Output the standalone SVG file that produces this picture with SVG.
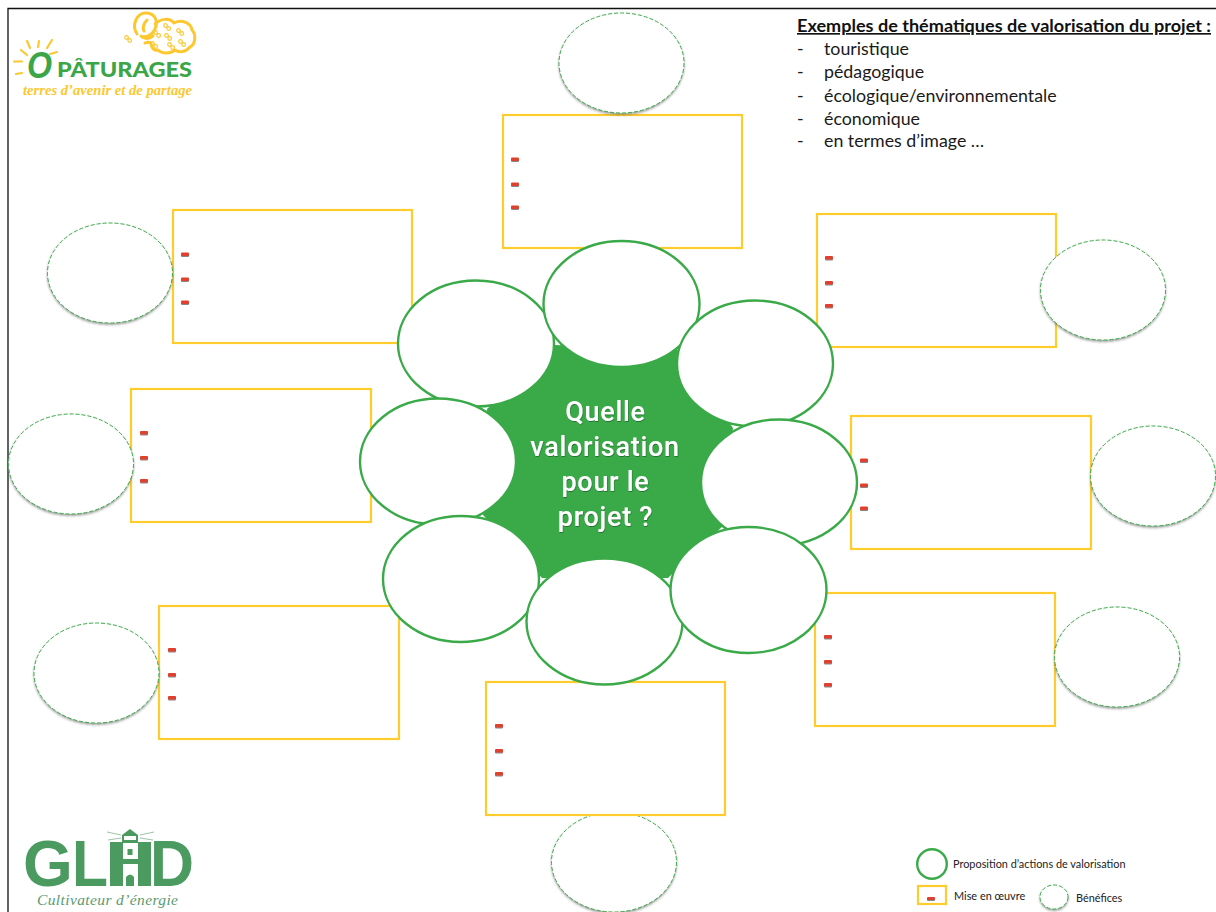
<svg xmlns="http://www.w3.org/2000/svg" width="1216" height="912" viewBox="0 0 1216 912">
<style>
.box{fill:#fff;stroke:#ffcc2e;stroke-width:2.2}
.act{fill:#fff;stroke:#3aaa48;stroke-width:2.4}
.ben{fill:#fff;stroke:#3aaa48;stroke-width:1;stroke-dasharray:4 2;filter:url(#sh)}
.d{fill:#e0402f;filter:url(#ds)}
.t{font-family:"Lato","Open Sans","Liberation Sans",sans-serif;font-size:17.8px;fill:#1a1a1a}
.h{font-family:"Lato","Open Sans","Liberation Sans",sans-serif;font-size:16.5px;fill:#111}
.lg{font-family:"Lato","Open Sans","Liberation Sans",sans-serif;font-size:10.9px;fill:#222}
.q{font-family:"Roboto","Inter","Liberation Sans",sans-serif;font-size:27px;font-weight:500;fill:#fff;text-anchor:middle;letter-spacing:.7px;filter:url(#ts)}
.y{fill:none;stroke:#fdc82f;stroke-width:3;stroke-linecap:round;stroke-linejoin:round}
.f{stroke-width:1.2}
.gl{font-family:"Liberation Sans",sans-serif;font-weight:700;font-size:64px;fill:#4b9a60}
.gf{fill:#4b9a60}
</style>
<defs>
<filter id="sh" x="-10%" y="-10%" width="120%" height="125%"><feDropShadow dx="0" dy="1.5" stdDeviation="1" flood-color="#555" flood-opacity=".6"/></filter>
<filter id="ds" x="-30%" y="-60%" width="160%" height="260%"><feDropShadow dx="0" dy="1" stdDeviation=".6" flood-color="#555" flood-opacity=".7"/></filter>
<filter id="ts" x="-10%" y="-10%" width="120%" height="130%"><feDropShadow dx="0.5" dy="1" stdDeviation=".7" flood-color="#1c5a28" flood-opacity=".7"/></filter>
<g id="marks"><rect x="0" y="0" width="8" height="3.500" rx="1" class="d"/><rect x="0" y="25" width="8" height="3.500" rx="1" class="d"/><rect x="0" y="48" width="8" height="3.500" rx="1" class="d"/></g>
<g id="fl"><circle cx="-1.500" cy="-1.500" r="1.800"/><circle cx="1.700" cy="1.500" r="1.800"/></g>
</defs>
<rect width="1216" height="912" fill="#fff"/>
<path d="M8 912V8.500H1216" fill="none" stroke="#111" stroke-width="1.300"/>

<g id="logo-paturages">
<g class="y">
<path d="M14 61.500H22M21 50l6 5M27 41l3 7M39 41l-1 6M52 40l-5 8M57 52l-7 2M16 74l6-1" stroke-width="2.200"/>
<path d="M137 34c-6-9 0-22 10-21 9 1 11 9 8 16-3 7-10 9-14 7M147 20c-3 3-5 8-3 11"/>
<path d="M142 37c4 2 8 2 11-1M155 24c6-6 15-6 19-1 8-4 17 0 18 7 4 4 4 14-2 17-4 5-11 6-15 3-5 4-13 4-17 0-4 1-7-2-7-7-2-1-4-1-6 0"/>
<g class="f"><use href="#fl" x="167" y="27"/><use href="#fl" x="157" y="34"/><use href="#fl" x="180" y="32"/><use href="#fl" x="168" y="37"/><use href="#fl" x="154" y="45"/><use href="#fl" x="171" y="46"/><use href="#fl" x="182" y="43"/><use href="#fl" x="128" y="39"/></g>
</g>
<text x="27" y="78" font-family="'Liberation Sans',sans-serif" font-style="italic" font-weight="700" font-size="37" textLength="25" lengthAdjust="spacingAndGlyphs" fill="#3aa648">O</text>
<text x="57" y="76.500" font-family="Lato,'Liberation Sans',sans-serif" font-weight="900" font-size="21" textLength="135" lengthAdjust="spacingAndGlyphs" fill="#3aa648">PÂTURAGES</text>
<text x="23" y="95" font-family="'Liberation Serif',serif" font-style="italic" font-weight="700" font-size="15.500" textLength="169" lengthAdjust="spacingAndGlyphs" fill="#fdc82f">terres d’avenir et de partage</text>
</g>

<g id="benefit-b"><ellipse class="ben" cx="614" cy="862" rx="62.500" ry="50"/></g>

<g id="box-top"><rect class="box" x="503" y="115" width="239" height="133"/><use href="#marks" x="511" y="157.500"/></g>
<g id="box-tl"><rect class="box" x="173" y="210" width="239" height="133"/><use href="#marks" x="181" y="252.500"/></g>
<g id="box-tr"><rect class="box" x="817" y="214" width="239" height="133"/><use href="#marks" x="825" y="256"/></g>
<g id="box-l"><rect class="box" x="131" y="389" width="240" height="133"/><use href="#marks" x="140" y="431"/></g>
<g id="box-r"><rect class="box" x="851" y="416" width="240" height="133"/><use href="#marks" x="860" y="458.500"/></g>
<g id="box-bl"><rect class="box" x="159" y="606" width="240" height="133"/><use href="#marks" x="168" y="648"/></g>
<g id="box-br"><rect class="box" x="815" y="593" width="240" height="133"/><use href="#marks" x="824" y="635"/></g>
<g id="box-b"><rect class="box" x="486" y="682" width="239" height="133"/><use href="#marks" x="495" y="724"/></g>

<g id="benefit-top"><ellipse class="ben" cx="621.500" cy="63" rx="62.500" ry="50"/></g>
<g id="benefit-tl"><ellipse class="ben" cx="110" cy="273" rx="62.500" ry="50"/></g>
<g id="benefit-tr"><ellipse class="ben" cx="1103" cy="290" rx="62.500" ry="50"/></g>
<g id="benefit-l"><ellipse class="ben" cx="71" cy="464" rx="62.500" ry="50"/></g>
<g id="benefit-r"><ellipse class="ben" cx="1153" cy="476" rx="62.500" ry="50"/></g>
<g id="benefit-bl"><ellipse class="ben" cx="96.500" cy="673" rx="62.500" ry="50"/></g>
<g id="benefit-br"><ellipse class="ben" cx="1117" cy="657" rx="62.500" ry="50"/></g>

<g id="center">
<polygon points="487,409 555,345 680,350 733,428 723,526 668,578 542,578 483,515" fill="#3aaa48"/>
</g>
<g id="action-tl"><ellipse class="act" cx="476" cy="343.500" rx="78" ry="63"/></g>
<g id="action-t"><ellipse class="act" cx="621.500" cy="304" rx="78" ry="63"/></g>
<g id="action-tr"><ellipse class="act" cx="755" cy="363.500" rx="78" ry="63"/></g>
<g id="action-r"><ellipse class="act" cx="779" cy="482.500" rx="78" ry="63"/></g>
<g id="action-l"><ellipse class="act" cx="438" cy="461.500" rx="78" ry="63"/></g>
<g id="action-bl"><ellipse class="act" cx="461" cy="579" rx="78" ry="63"/></g>
<g id="action-b"><ellipse class="act" cx="604.500" cy="621.500" rx="78" ry="63"/></g>
<g id="action-br"><ellipse class="act" cx="748.500" cy="590" rx="78" ry="63"/></g>
<g id="question">
<text class="q" x="605.500" y="421">Quelle</text>
<text class="q" x="605" y="456">valorisation</text>
<text class="q" x="605.500" y="491">pour le</text>
<text class="q" x="605.500" y="526">projet ?</text>
</g>

<g id="themes">
<text class="h" x="797" y="32" font-weight="700" text-decoration="underline" textLength="414" lengthAdjust="spacingAndGlyphs">Exemples de thématiques de valorisation du projet :</text>
<text class="t" x="797" y="55">-</text><text class="t" x="824" y="55">touristique</text>
<text class="t" x="797" y="78">-</text><text class="t" x="824" y="78">pédagogique</text>
<text class="t" x="797" y="102">-</text><text class="t" x="824" y="102">écologique/environnementale</text>
<text class="t" x="797" y="125">-</text><text class="t" x="824" y="125">économique</text>
<text class="t" x="797" y="147">-</text><text class="t" x="824" y="147">en termes d’image …</text>
</g>

<g id="logo-glhd">
<text class="gl" x="23" y="886">G</text>
<text class="gl" x="72" y="886" textLength="36" lengthAdjust="spacingAndGlyphs">L</text>
<text class="gl" x="150" y="886" textLength="44" lengthAdjust="spacingAndGlyphs">D</text>
<rect class="gf" x="110" y="842" width="13" height="44"/><rect class="gf" x="138" y="842" width="13" height="44"/>
<rect class="gf" x="120" y="859" width="21" height="5"/>
<path class="gf" d="M122 843v-8l8-6 8 6v8z"/>
<rect x="124" y="836" width="12" height="4" fill="#fff"/>
<rect class="gf" x="127.500" y="849" width="5" height="6"/>
<path class="gf" d="M126 886v-9q4-5 8 0v9z"/>
<path d="M107 832l14 3M108 840l13-2M140 835l14-3M140 838l13 2" stroke="#9cc5a8" fill="none"/>
<text x="37" y="905" font-family="'Liberation Serif',serif" font-style="italic" font-size="15.500" textLength="141" lengthAdjust="spacing" fill="#5a9a70">Cultivateur d’énergie</text>
</g>

<g id="legend">
<circle class="act" cx="932" cy="864" r="14.800"/>
<text class="lg" x="953" y="868">Proposition d’actions de valorisation</text>
<rect class="box" x="918" y="886" width="28" height="18"/>
<rect class="d" x="927" y="897" width="8" height="3" rx="1"/>
<text class="lg" x="954" y="900">Mise en œuvre</text>
<ellipse class="ben" cx="1054" cy="897" rx="14" ry="12"/>
<text class="lg" x="1076" y="902">Bénéfices</text>
</g>
</svg>
